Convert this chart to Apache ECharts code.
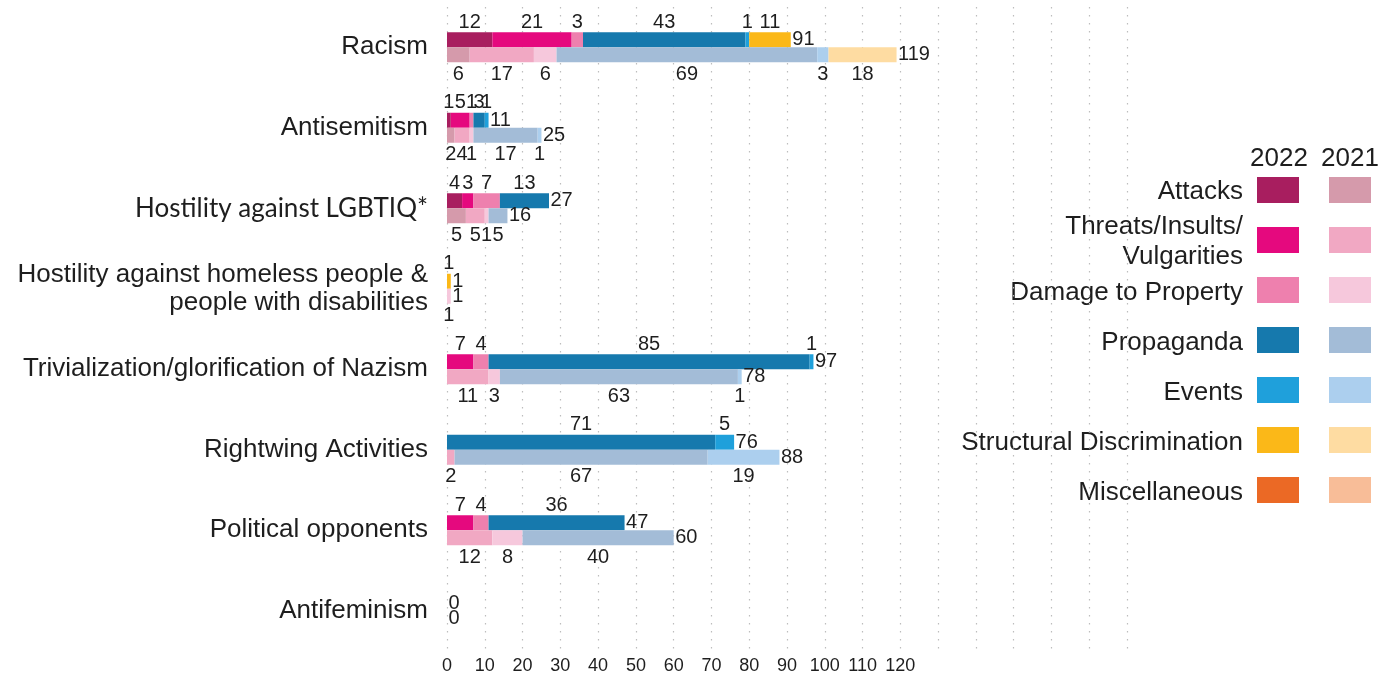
<!DOCTYPE html>
<html>
<head>
<meta charset="utf-8">
<title>Incidents by category 2022 / 2021</title>
<script src="https://cdn.jsdelivr.net/npm/echarts@6/dist/echarts.min.js"></script>
<style>
  html, body { margin: 0; padding: 0; background: #fff; }
  #chart { width: 1394px; height: 677px; }
</style>
</head>
<body>
<div id="chart"></div>
<script>
// categories, top to bottom
var categories = [
  "Racism",
  "Antisemitism",
  "Hostility against LGBTIQ*",
  "Hostility against homeless people &\npeople with disabilities",
  "Trivialization/glorification of Nazism",
  "Rightwing Activities",
  "Political opponents",
  "Antifeminism"
];
var typeNames = ["Attacks", "Threats/Insults/\nVulgarities", "Damage to Property", "Propaganda", "Events", "Structural Discrimination", "Miscellaneous"];

// 2022
var attacks22    = [12, 1, 4, 0, 0, 0, 0, 0];
var threats22    = [21, 5, 3, 0, 7, 0, 7, 0];
var damage22     = [3, 1, 7, 0, 4, 0, 4, 0];
var propaganda22 = [43, 3, 13, 0, 85, 71, 36, 0];
var events22     = [1, 1, 0, 0, 1, 5, 0, 0];
var structural22 = [11, 0, 0, 1, 0, 0, 0, 0];
var misc22       = [0, 0, 0, 0, 0, 0, 0, 0];
var total22      = [91, 11, 27, 1, 97, 76, 47, 0];

// 2021
var attacks21    = [6, 2, 5, 0, 0, 0, 0, 0];
var threats21    = [17, 4, 5, 0, 11, 2, 12, 0];
var damage21     = [6, 1, 1, 1, 3, 0, 8, 0];
var propaganda21 = [69, 17, 5, 0, 63, 67, 40, 0];
var events21     = [3, 1, 0, 0, 1, 19, 0, 0];
var structural21 = [18, 0, 0, 0, 0, 0, 0, 0];
var misc21       = [0, 0, 0, 0, 0, 0, 0, 0];
var total21      = [119, 25, 16, 1, 78, 88, 60, 0];

var xTicks = [0, 10, 20, 30, 40, 50, 60, 70, 80, 90, 100, 110, 120];

var colors22 = ["#a81e5f", "#e5097e", "#ee80ae", "#1679ad", "#1fa0db", "#fbb818", "#eb6925"];
var colors21 = ["#d59aab", "#f1a8c3", "#f6c8dc", "#a3bcd7", "#accfee", "#fedca2", "#f8bd98"];

var data22 = [attacks22, threats22, damage22, propaganda22, events22, structural22, misc22];
var data21 = [attacks21, threats21, damage21, propaganda21, events21, structural21, misc21];

var numFont = "Liberation Sans, Arial, sans-serif";
var textColor = "#1e1e1e";

var myChart = echarts.init(document.getElementById("chart"));

function segLabel(pos, dist) {
  return {
    show: true,
    position: pos,
    distance: dist,
    fontFamily: numFont,
    fontSize: 20,
    color: textColor,
    formatter: function (p) { return p.value > 0 ? String(p.value) : ""; }
  };
}

var series = [];
var names22 = [], names21 = [];
data22.forEach(function (arr, i) {
  var name = "2022 " + typeNames[i].replace("\n", "");
  names22.push(name);
  series.push({
    name: name, type: "bar", stack: "y2022", barWidth: 15, barGap: "0%",
    itemStyle: { color: colors22[i] },
    label: segLabel("top", 0),
    data: arr
  });
});
data21.forEach(function (arr, i) {
  var name = "2021 " + typeNames[i].replace("\n", "");
  names21.push(name);
  series.push({
    name: name, type: "bar", stack: "y2021", barWidth: 15, barGap: "0%",
    itemStyle: { color: colors21[i] },
    label: segLabel("bottom", 2),
    data: arr
  });
});

// totals at the end of each stack
function totalSeries(name, totals, dy) {
  return {
    name: name, type: "scatter", symbol: "rect", symbolSize: 1,
    itemStyle: { color: "rgba(0,0,0,0)", opacity: 1 },
    silent: true,
    label: {
      show: true, position: "right", distance: 1, offset: [0, dy],
      fontFamily: numFont, fontSize: 20, color: textColor, opacity: 1,
      formatter: function (p) { return String(p.value[0]); }
    },
    data: totals.map(function (v, i) { return [v, i]; })
  };
}
series.push(totalSeries("Total 2022", total22, -7.5));
series.push(totalSeries("Total 2021", total21, 7.5));

// legend texts (right aligned next to the swatches)
var legendTexts = [];
typeNames.forEach(function (t, i) {
  var lines = t.split("\n");
  var cy = 192 + i * 50.2;
  lines.forEach(function (line, j) {
    legendTexts.push({
      type: "text", x: 1243, y: cy + (j - (lines.length - 1) / 2) * 30,
      style: {
        text: line, fill: textColor, font: "26px " + numFont,
        align: "right", verticalAlign: "middle"
      }
    });
  });
});
legendTexts.push({ type: "text", x: 1279, y: 159, style: { text: "2022", fill: textColor, font: "26px " + numFont, align: "center", verticalAlign: "middle" } });
legendTexts.push({ type: "text", x: 1350, y: 159, style: { text: "2021", fill: textColor, font: "26px " + numFont, align: "center", verticalAlign: "middle" } });

var option = {
  animation: false,
  grid: { left: 447, right: 267, top: 7, bottom: 26 },
  tooltip: { trigger: "item" },
  legend: [
    {
      data: names22, orient: "vertical", left: 1257, top: 177, padding: 0,
      itemWidth: 42, itemHeight: 26, itemGap: 24, icon: "rect",
      formatter: function () { return ""; }
    },
    {
      data: names21, orient: "vertical", left: 1329, top: 177, padding: 0,
      itemWidth: 42, itemHeight: 26, itemGap: 24, icon: "rect",
      formatter: function () { return ""; }
    }
  ],
  graphic: legendTexts,
  xAxis: {
    type: "value", min: 0, max: 180, interval: 10,
    axisLine: { show: false }, axisTick: { show: false },
    splitLine: { show: true, lineStyle: { color: "#bdbdbd", width: 1.2, type: [1.5, 6.5] } },
    axisLabel: {
      fontFamily: numFont, fontSize: 18, color: textColor, margin: 6,
      formatter: function (v) { return xTicks.indexOf(v) >= 0 ? String(v) : ""; }
    }
  },
  yAxis: {
    type: "category", inverse: true, data: categories,
    axisLine: { show: false }, axisTick: { show: false },
    axisLabel: {
      fontFamily: numFont, fontSize: 26, color: textColor, margin: 19, lineHeight: 28,
      formatter: function (v) { return v.indexOf("LGBTIQ") >= 0 ? "{alt|" + v + "}" : v; },
      rich: { alt: { fontFamily: "Lato, Carlito, sans-serif", fontSize: 26, color: textColor } }
    }
  },
  series: series
};

myChart.setOption(option);
</script>
</body>
</html>
